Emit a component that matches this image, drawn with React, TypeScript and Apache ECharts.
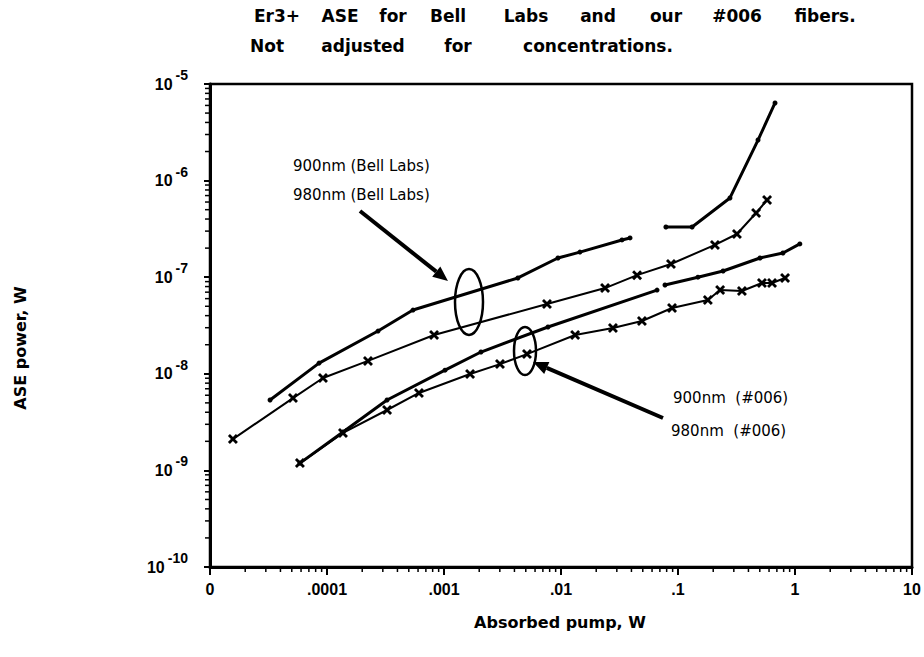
import React, { useEffect, useRef } from "react";
import * as echarts from "echarts";

// ---- Axis tick labels ----
const xTickLabels: Record<string, string> = { "-5": "0", "-4": ".0001", "-3": ".001", "-2": ".01", "-1": ".1", "0": "1", "1": "10" };
const yExponentLabels: Record<string, string> = { "-10": "-10", "-9": "-9", "-8": "-8", "-7": "-7", "-6": "-6", "-5": "-5" };

// ---- Data (absorbed pump W, ASE power W) ----
const bell900SegAX = [3.26e-5, 8.55e-5, 2.73e-4, 5.43e-4, 4.28e-3, 9.42e-3, 1.45e-2, 3.32e-2, 3.89e-2];
const bell900SegAY = [5.36e-9, 1.29e-8, 2.77e-8, 4.57e-8, 9.82e-8, 1.58e-7, 1.82e-7, 2.43e-7, 2.55e-7];
const bell900SegBX = [7.88e-2, 0.132, 0.278, 0.483, 0.675];
const bell900SegBY = [3.31e-7, 3.31e-7, 6.61e-7, 2.63e-6, 6.36e-6];

const bell980X = [1.57e-5, 5.12e-5, 9.24e-5, 2.24e-4, 8.22e-4, 7.59e-3, 2.38e-2, 4.47e-2, 8.71e-2, 0.207, 0.319, 0.465, 0.577];
const bell980Y = [2.11e-9, 5.61e-9, 9.05e-9, 1.36e-8, 2.52e-8, 5.28e-8, 7.72e-8, 1.05e-7, 1.37e-7, 2.16e-7, 2.8e-7, 4.62e-7, 6.29e-7];

const f006n900SegAX = [5.87e-5, 1.37e-4, 3.26e-4, 1.02e-3, 2.07e-3, 7.74e-3, 6.62e-2];
const f006n900SegAY = [1.19e-9, 2.5e-9, 5.36e-9, 1.09e-8, 1.68e-8, 3.05e-8, 7.36e-8];
const f006n900SegBX = [7.74e-2, 0.148, 0.243, 0.502, 0.789, 1.1];
const f006n900SegBY = [8.3e-8, 1.0e-7, 1.16e-7, 1.58e-7, 1.78e-7, 2.21e-7];

const f006n980X = [5.87e-5, 1.37e-4, 3.26e-4, 6.11e-4, 1.67e-3, 3.01e-3, 5.12e-3, 1.32e-2, 2.78e-2, 4.92e-2, 8.89e-2, 0.18, 0.229, 0.352, 0.522, 0.636, 0.822];
const f006n980Y = [1.19e-9, 2.44e-9, 4.22e-9, 6.33e-9, 9.96e-9, 1.26e-8, 1.6e-8, 2.52e-8, 2.98e-8, 3.52e-8, 4.8e-8, 5.81e-8, 7.36e-8, 7.19e-8, 8.71e-8, 8.71e-8, 9.82e-8];

// ---- Texts ----
const titleLine1 = "Er3+ ASE for Bell Labs and our #006 fibers.";
const titleLine2 = "Not adjusted for concentrations.";
const xAxisTitle = "Absorbed pump, W";
const yAxisTitle = "ASE power, W";
const noteBell900 = "900nm (Bell Labs)";
const noteBell980 = "980nm (Bell Labs)";
const note006n900 = "900nm  (#006)";
const note006n980 = "980nm  (#006)";

// layout: word centre positions for the widely spaced title
const titleLine1WordX = [277, 340, 393, 448, 526, 598, 666, 737, 825];
const titleLine2WordX = [267, 363, 458, 598];

const zip = (xs: number[], ys: number[]) => xs.map((x, i) => [x, ys[i]]);

const X_SYMBOL = "path://M0,2L2,0L5,3L8,0L10,2L7,5L10,8L8,10L5,7L2,10L0,8L3,5Z";
const FONT = "Liberation Sans";
const FONT2 = "DejaVu Sans";

// log minor tick positions (axis decoration)
const minorX: number[] = [];
for (let e = -5; e < 1; e++) for (let m = 2; m <= 9; m++) minorX.push(m * Math.pow(10, e));
const minorY: number[] = [];
for (let e = -10; e < -5; e++) for (let m = 2; m <= 9; m++) minorY.push(m * Math.pow(10, e));

function dotLine(name: string, data: number[][]) {
  return {
    name,
    type: "line",
    data,
    symbol: "circle",
    symbolSize: 5,
    lineStyle: { color: "#000", width: 3 },
    itemStyle: { color: "#000" },
    z: 3,
  };
}
function crossLine(name: string, data: number[][]) {
  return {
    name,
    type: "line",
    data,
    symbol: X_SYMBOL,
    symbolSize: 10,
    lineStyle: { color: "#000", width: 2 },
    itemStyle: { color: "#000" },
    z: 3,
  };
}

function arrow(x1: number, y1: number, x2: number, y2: number) {
  const dx = x2 - x1, dy = y2 - y1;
  const len = Math.sqrt(dx * dx + dy * dy);
  const ux = dx / len, uy = dy / len;
  const head = 15, half = 6.5;
  const bx = x2 - ux * head, by = y2 - uy * head;
  const px = -uy * half, py = ux * half;
  return [
    { type: "line", shape: { x1, y1, x2: bx, y2: by }, style: { stroke: "#000", lineWidth: 4 } },
    { type: "polygon", shape: { points: [[x2, y2], [bx + px, by + py], [bx - px, by - py]] }, style: { fill: "#000" } },
  ];
}

function words(line: string, xs: number[], y: number) {
  return line.split(" ").map((w, i) => ({
    type: "text",
    x: xs[i],
    y,
    style: { text: w, fontFamily: FONT2, fontWeight: "bold", fontSize: 17, fill: "#000", align: "center", verticalAlign: "middle" },
  }));
}

function note(text: string, x: number, y: number) {
  return {
    type: "text",
    x,
    y,
    style: { text, fontFamily: FONT2, fontSize: 15, fill: "#000", align: "left", verticalAlign: "middle" },
  };
}

export default function App() {
  const ref = useRef<HTMLDivElement>(null);
  useEffect(() => {
    document.body.style.margin = "0";
    const chart = echarts.init(ref.current!, null, { renderer: "svg" });
    const option: any = {
      animation: false,
      backgroundColor: "#fff",
      grid: { left: 210, right: 12, top: 84, bottom: 90, show: true, borderColor: "#000", borderWidth: 2.5 },
      xAxis: {
        type: "log",
        logBase: 10,
        min: 1e-5,
        max: 10,
        axisLine: { show: true, onZero: false, lineStyle: { color: "#000", width: 3 } },
        axisTick: { show: true, inside: false, length: 8, lineStyle: { color: "#000", width: 2 } },
        splitLine: { show: false },
        axisLabel: {
          margin: 14,
          fontFamily: FONT,
          fontWeight: "bold",
          fontSize: 16,
          color: "#000",
          formatter: (v: number) => xTickLabels[String(Math.round(Math.log10(v)))] ?? "",
        },
      },
      yAxis: {
        type: "log",
        logBase: 10,
        min: 1e-10,
        max: 1e-5,
        axisLine: { show: true, onZero: false, lineStyle: { color: "#000", width: 3 } },
        axisTick: { show: true, inside: false, length: 6, lineStyle: { color: "#000", width: 2 } },
        splitLine: { show: false },
        axisLabel: {
          margin: 22,
          color: "#000",
          formatter: (v: number) => `{a|10}{b|${yExponentLabels[String(Math.round(Math.log10(v)))]}}`,
          rich: {
            a: { fontFamily: FONT, fontWeight: "bold", fontSize: 16, lineHeight: 32, color: "#000" },
            b: { fontFamily: FONT, fontWeight: "bold", fontSize: 14, lineHeight: 16, verticalAlign: "top", color: "#000", padding: [0, 0, 0, 3] },
          },
        },
      },
      series: [
        dotLine("900nm (Bell Labs)", zip(bell900SegAX, bell900SegAY)),
        dotLine("900nm (Bell Labs) high pump", zip(bell900SegBX, bell900SegBY)),
        crossLine("980nm (Bell Labs)", zip(bell980X, bell980Y)),
        dotLine("900nm (#006)", zip(f006n900SegAX, f006n900SegAY)),
        dotLine("900nm (#006) high pump", zip(f006n900SegBX, f006n900SegBY)),
        crossLine("980nm (#006)", zip(f006n980X, f006n980Y)),
        {
          type: "custom",
          coordinateSystem: "cartesian2d",
          silent: true,
          clip: false,
          z: 5,
          data: minorX.map((v) => [v, 1e-10]),
          renderItem: (_p: any, api: any) => {
            const p = api.coord([api.value(0), api.value(1)]);
            return { type: "line", shape: { x1: p[0], y1: p[1], x2: p[0], y2: p[1] + 5 }, style: { stroke: "#000", lineWidth: 1.5 } };
          },
        },
        {
          type: "custom",
          coordinateSystem: "cartesian2d",
          silent: true,
          clip: false,
          z: 5,
          data: minorY.map((v) => [1e-5, v]),
          renderItem: (_p: any, api: any) => {
            const p = api.coord([api.value(0), api.value(1)]);
            return { type: "line", shape: { x1: p[0] - 5, y1: p[1], x2: p[0], y2: p[1] }, style: { stroke: "#000", lineWidth: 1.5 } };
          },
        },
      ],
      graphic: [
        ...words(titleLine1, titleLine1WordX, 16),
        ...words(titleLine2, titleLine2WordX, 46),
        {
          type: "text",
          x: 560,
          y: 622,
          style: { text: xAxisTitle, fontFamily: FONT2, fontWeight: "bold", fontSize: 16, fill: "#000", align: "center", verticalAlign: "middle" },
        },
        {
          type: "text",
          x: 20,
          y: 348,
          rotation: Math.PI / 2,
          style: { text: yAxisTitle, fontFamily: FONT2, fontWeight: "bold", fontSize: 16, fill: "#000", align: "center", verticalAlign: "middle" },
        },
        note(noteBell900, 293, 166),
        note(noteBell980, 293, 195),
        note(note006n900, 673, 398),
        note(note006n980, 671, 431),
        ...arrow(360, 211, 448, 281),
        ...arrow(663, 418, 533, 362),
        { type: "ellipse", shape: { cx: 469, cy: 302, rx: 14, ry: 33 }, style: { fill: "none", stroke: "#000", lineWidth: 2.5 } },
        { type: "ellipse", shape: { cx: 525, cy: 351, rx: 11, ry: 24 }, style: { fill: "none", stroke: "#000", lineWidth: 2.5 } },
      ],
    };
    chart.setOption(option);
    return () => chart.dispose();
  }, []);
  return <div ref={ref} style={{ width: 924, height: 657 }} />;
}
